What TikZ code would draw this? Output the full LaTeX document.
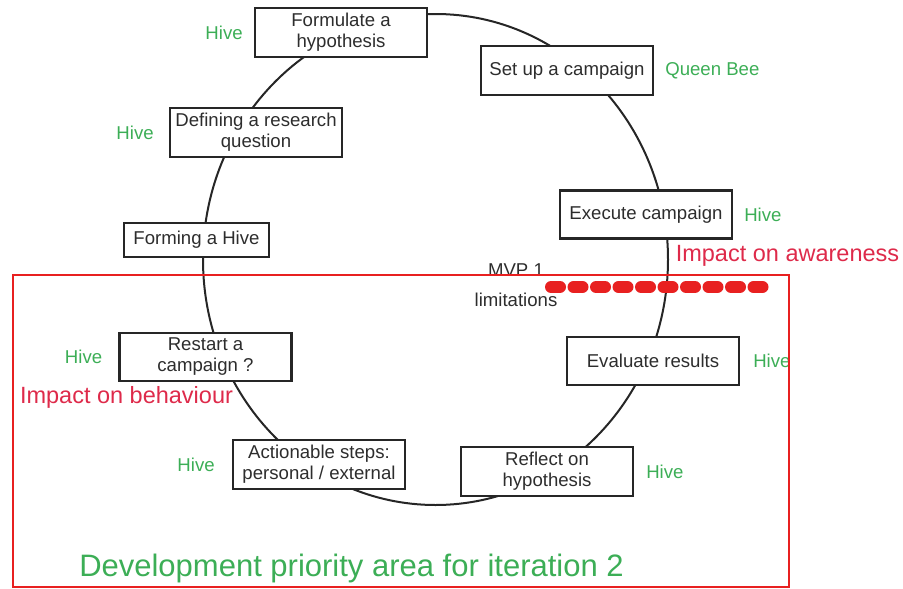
\documentclass[tikz,border=0pt]{standalone}
\usepackage{fontspec}
\setmainfont{Liberation Sans}
\usetikzlibrary{positioning}

\definecolor{hivegreen}{RGB}{60,174,86}
\definecolor{impactred}{RGB}{222,42,74}
\definecolor{limitred}{RGB}{232,32,32}
\definecolor{boxtext}{RGB}{45,45,45}

\tikzset{
  stage/.style={draw=black!85, line width=2.2pt, fill=white, text=boxtext,
    align=center, minimum width=172pt, minimum height=49pt, inner sep=0pt,
    font=\fontsize{18.6}{21}\selectfont},
  role/.style={text=hivegreen, inner sep=0pt, font=\fontsize{18.6}{21}\selectfont},
  impact/.style={text=impactred, inner sep=0pt, font=\fontsize{23.5}{26}\selectfont},
  note/.style={text=boxtext, inner sep=0pt, font=\fontsize{18.6}{21}\selectfont}
}

\begin{document}
\begin{tikzpicture}[x=1pt, y=-1pt]
  \useasboundingbox (0,0) rectangle (903,589);

  % Zyklus
  \coordinate (ctr) at (435.5,259.5);
  \draw[line width=2pt, black!85] (ctr) ellipse [x radius=232.5, y radius=245.5];

  % Schritte
  \node[stage] (formulate) at (341,32.5) {Formulate a\\hypothesis};
  \node[stage] (setup) at (567,70.5) {Set up a campaign};
  \node[stage, minimum height=48pt] (execute) at (646,214.5) {Execute campaign};
  \node[stage, minimum height=48pt] (evaluate) at (653,361) {Evaluate results};
  \node[stage] (reflect) at (547,471.5) {Reflect on\\hypothesis};
  \node[stage] (actionable) at (319,464.5) {Actionable steps:\\personal / external};
  \node[stage, minimum height=48pt] (restart) at (205.5,357) {Restart a\\campaign ?};
  \node[stage, minimum width=145pt, minimum height=34pt] (forming) at (196.5,240) {Forming a Hive};
  \node[stage] (defining) at (256,132.5) {Defining a research\\question};

  % Rollen
  \node[role, left=11pt of formulate] (hive-formulate) {Hive};
  \node[role, right=11pt of setup] (queen) {Queen Bee};
  \node[role, right=11pt of execute] (hive-execute) {Hive};
  \node[role, right=13pt of evaluate] (hive-evaluate) {Hive};
  \node[role, right=12pt of reflect] (hive-reflect) {Hive};
  \node[role, left=17pt of actionable] (hive-actionable) {Hive};
  \node[role, left=16pt of restart] (hive-restart) {Hive};
  \node[role, left=15pt of defining] (hive-defining) {Hive};

  % Wirkung
  \node[impact] (aware) at (787.5,256) {Impact on awareness};
  \node[impact] (behave) at (126.5,397) {Impact on behaviour};

  % MVP 1
  \node[note] (mvp) at (516,270) {MVP 1};
  \node[note] (limits) at (516,300) {limitations};
  \coordinate (lim-a) at (551,287);
  \coordinate (lim-b) at (764,287);
  \draw[limitred, line width=12pt, line cap=round, dash pattern=on 9pt off 13.5pt] (lim-a) -- (lim-b);

  % Iteration 2
  \draw[limitred, line width=2.5pt] (13,275) rectangle (789,587);
  \node[text=hivegreen, inner sep=0pt, font=\fontsize{31}{34}\selectfont] (prio) at (351.5,568) {Development priority area for iteration 2};
\end{tikzpicture}
\end{document}
